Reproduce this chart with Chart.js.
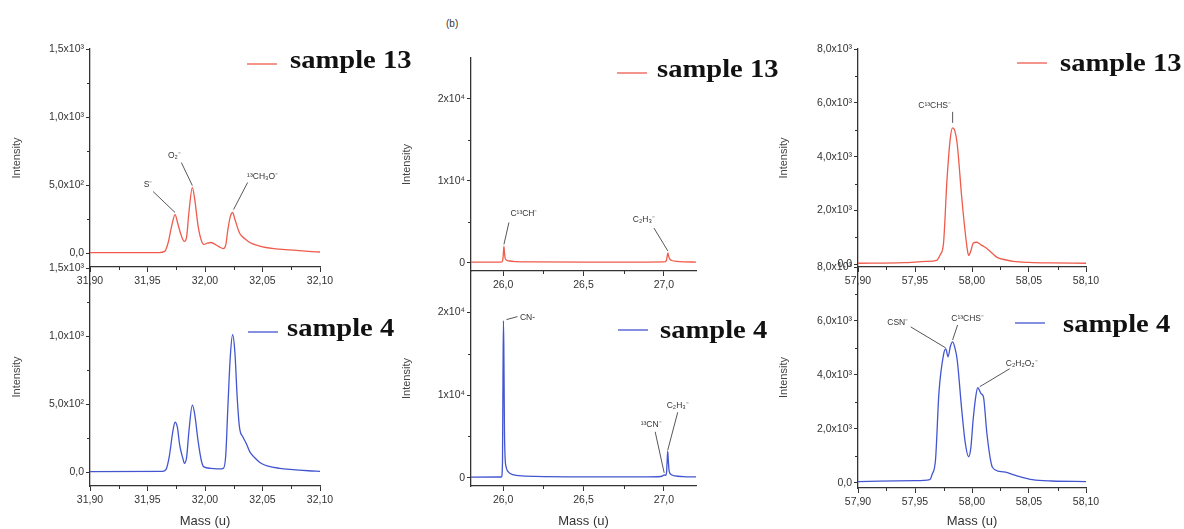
<!DOCTYPE html>
<html>
<head>
<meta charset="utf-8">
<script src="https://cdn.jsdelivr.net/npm/chart.js@4.4.1/dist/chart.umd.min.js"></script>
<style>
  html, body { margin: 0; padding: 0; background: #fff; }
  #fig { position: relative; width: 1184px; height: 529px; overflow: hidden; background: #fff; }
  #fig canvas { position: absolute; left: 0; top: 0; }
  #panelTag { position: absolute; left: 446px; top: 18px; font: 10px "Liberation Sans", Arial, sans-serif; color: #333; }
</style>
</head>
<body>
<div id="fig">
  <div id="panelTag">(b)</div>
  <canvas id="c32s13" width="1184" height="529"></canvas>
  <canvas id="c32s4" width="1184" height="529"></canvas>
  <canvas id="c26s13" width="1184" height="529"></canvas>
  <canvas id="c26s4" width="1184" height="529"></canvas>
  <canvas id="c58s13" width="1184" height="529"></canvas>
  <canvas id="c58s4" width="1184" height="529"></canvas>
</div>
<script>
// ---- Spectra around m/z 32 ----
const mass32_s13 = [31.900, 31.960, 31.965, 31.968, 31.971, 31.974, 31.976, 31.979, 31.982, 31.984,
  31.986, 31.989, 31.991, 31.994, 31.997, 31.999, 32.002, 32.005, 32.008, 32.012,
  32.016, 32.018, 32.020, 32.022, 32.024, 32.026, 32.030, 32.035, 32.039, 32.045,
  32.050, 32.060, 32.074, 32.090, 32.100];
const int32_s13 = [5, 6, 15, 80, 200, 285, 230, 140, 88, 120,
  300, 483, 400, 200, 90, 66, 75, 80, 70, 50,
  35, 60, 180, 270, 300, 250, 150, 105, 80, 60,
  48, 35, 25, 15, 10];

const mass32_s4 = [31.900, 31.963, 31.966, 31.969, 31.972, 31.974, 31.976, 31.978, 31.981, 31.982,
  31.984, 31.986, 31.989, 31.991, 31.994, 31.997, 31.999, 32.005, 32.012, 32.016,
  32.018, 32.020, 32.022, 32.024, 32.026, 32.028, 32.030, 32.033, 32.036, 32.039,
  32.043, 32.048, 32.055, 32.065, 32.074, 32.090, 32.100];
const int32_s4 = [5, 8, 20, 120, 300, 368, 330, 200, 95, 66,
  110, 300, 493, 430, 230, 80, 40, 30, 25, 30,
  120, 500, 850, 1010, 880, 550, 330, 260, 210, 150,
  110, 70, 45, 30, 22, 12, 8];

// ---- Spectra around m/z 26-27 ----
const mass26_s13 = [25.80, 25.99, 25.998, 26.002, 26.005, 26.008, 26.012, 26.02, 26.04, 26.08,
  26.2, 26.5, 26.9, 27.00, 27.015, 27.020, 27.025, 27.030, 27.037, 27.05,
  27.08, 27.13, 27.20];
const int26_s13 = [80, 90, 400, 1300, 2000, 1300, 600, 350, 220, 150,
  110, 90, 90, 110, 250, 700, 1200, 800, 450, 280,
  180, 120, 90];

const mass26_s4 = [25.80, 25.99, 25.996, 25.999, 26.002, 26.005, 26.008, 26.012, 26.02, 26.035,
  26.06, 26.1, 26.2, 26.5, 26.9, 26.98, 26.995, 27.002, 27.010, 27.016,
  27.020, 27.024, 27.028, 27.033, 27.045, 27.07, 27.12, 27.20];
const int26_s4 = [80, 90, 2000, 12000, 19000, 14000, 6000, 2500, 1200, 650,
  380, 250, 160, 110, 110, 150, 250, 350, 300, 500,
  1800, 3200, 2000, 800, 400, 220, 140, 100];

// ---- Spectra around m/z 58 ----
const mass58_s13 = [57.900, 57.940, 57.960, 57.969, 57.972, 57.975, 57.978, 57.981, 57.983, 57.985,
  57.987, 57.991, 57.994, 57.996, 57.997, 57.999, 58.001, 58.004, 58.008, 58.013,
  58.018, 58.022, 58.030, 58.036, 58.050, 58.070, 58.100];
const int58_s13 = [40, 60, 110, 150, 350, 780, 3100, 4700, 5070, 4950,
  4480, 2480, 1200, 520, 330, 500, 780, 820, 720, 590,
  400, 260, 160, 110, 70, 50, 40];

const mass58_s4 = [57.900, 57.950, 57.963, 57.965, 57.968, 57.971, 57.975, 57.977, 57.979, 57.981,
  57.983, 57.985, 57.987, 57.991, 57.994, 57.997, 57.999, 58.001, 58.003, 58.005,
  58.008, 58.010, 58.013, 58.016, 58.018, 58.024, 58.031, 58.036, 58.042, 58.053,
  58.070, 58.100];
const int58_s4 = [40, 70, 110, 300, 850, 3330, 4740, 4960, 4670, 5050,
  5220, 5000, 4560, 2700, 1500, 960, 1300, 2330, 3100, 3520,
  3300, 3190, 1850, 900, 560, 420, 370, 300, 220, 110,
  60, 40];

// ---- Axis ticks and their labels ----
const massTicks32 = [31.90, 31.95, 32.00, 32.05, 32.10];
const massLabels32 = ['31,90', '31,95', '32,00', '32,05', '32,10'];
const massTicks26 = [26.0, 26.5, 27.0];
const massLabels26 = ['26,0', '26,5', '27,0'];
const massTicks58 = [57.90, 57.95, 58.00, 58.05, 58.10];
const massLabels58 = ['57,90', '57,95', '58,00', '58,05', '58,10'];
const intTicks32 = [0, 500, 1000, 1500];
const intLabels32 = ['0,0', '5,0x10²', '1,0x10³', '1,5x10³'];
const intTicks26 = [0, 10000, 20000];
const intLabels26 = ['0', '1x10⁴', '2x10⁴'];
const intTicks58 = [0, 2000, 4000, 6000, 8000];
const intLabels58 = ['0,0', '2,0x10³', '4,0x10³', '6,0x10³', '8,0x10³'];

// ---- Peak assignments: peak position (mass, intensity) plus label/leader offsets in px ----
const notes32_s13 = [
  { text: 'S⁻', m: 31.974, v: 285, dx: -27, dy: -30, sx: -22, sy: -23, ex: 0, ey: -2 },
  { text: 'O₂⁻', m: 31.989, v: 483, dx: -18, dy: -32, sx: -11, sy: -25, ex: 0, ey: -2 },
  { text: '¹³CH₃O⁻', m: 32.024, v: 300, dx: 30, dy: -36, sx: 15, sy: -30, ex: 1, ey: -3 }
];
const notes26_s13 = [
  { text: 'C¹³CH⁻', m: 26.005, v: 2000, dx: 20, dy: -33, sx: 5, sy: -24, ex: 0, ey: -2 },
  { text: 'C₂H₃⁻', m: 27.025, v: 1200, dx: -24, dy: -33, sx: -14, sy: -25, ex: 0, ey: -2 }
];
const notes26_s4 = [
  { text: 'CN-', m: 26.002, v: 19000, dx: 24, dy: -3, sx: 14, sy: -4, ex: 3, ey: -1 },
  { text: '¹³CN⁻', m: 27.002, v: 350, dx: -13, dy: -50, sx: -9, sy: -43, ex: 0, ey: -2 },
  { text: 'C₂H₃⁻', m: 27.024, v: 3200, dx: 10, dy: -46, sx: 10, sy: -39, ex: 0, ey: -1 }
];
const notes58_s13 = [
  { text: 'C¹³CHS⁻', m: 57.983, v: 5070, dx: -18, dy: -22, sx: 0, sy: -16, ex: 0, ey: -5 }
];
const notes58_s4 = [
  { text: 'CSN⁻', m: 57.977, v: 4960, dx: -48, dy: -26, sx: -35, sy: -22, ex: 0, ey: -1 },
  { text: 'C¹³CHS⁻', m: 57.983, v: 5220, dx: 15, dy: -23, sx: 5, sy: -17, ex: 0, ey: -2 },
  { text: 'C₂H₂O₂⁻', m: 58.005, v: 3520, dx: 44, dy: -24, sx: 32, sy: -19, ex: 2, ey: -1 }
];

const RED = '#ef5b4c';
const BLUE = '#4356d0';
const AXIS = '#333';
const SANS = '"Liberation Sans", Arial, Helvetica, sans-serif';
const SERIF = '"Liberation Serif", "Times New Roman", serif';
const W = 1184, H = 529;

// Midpoints between major ticks, used for the short minor tick marks.
function midpoints(arr) {
  const out = [];
  for (let i = 1; i < arr.length; i++) out.push((arr[i - 1] + arr[i]) / 2);
  return out;
}

// Minor ticks, inline legend and peak labels drawn on top of each panel.
const decor = {
  id: 'decor',
  afterDraw(chart, args, opts) {
    const ctx = chart.ctx;
    const xs = chart.scales.x, ys = chart.scales.y;
    const a = chart.chartArea;
    ctx.save();
    ctx.strokeStyle = AXIS;
    ctx.lineWidth = 1;
    ctx.beginPath();
    opts.xMinor.forEach(v => {
      const px = Math.round(xs.getPixelForValue(v)) + 0.5;
      ctx.moveTo(px, a.bottom); ctx.lineTo(px, a.bottom + 3);
    });
    opts.yMinor.forEach(v => {
      const py = Math.round(ys.getPixelForValue(v)) + 0.5;
      ctx.moveTo(a.left - 3, py); ctx.lineTo(a.left, py);
    });
    ctx.stroke();

    // leader lines and peak labels
    ctx.strokeStyle = '#444';
    ctx.fillStyle = '#333';
    ctx.lineWidth = 0.9;
    ctx.font = '8.5px ' + SANS;
    ctx.textAlign = 'center';
    ctx.textBaseline = 'middle';
    opts.notes.forEach(n => {
      const tx = xs.getPixelForValue(n.m), ty = ys.getPixelForValue(n.v);
      ctx.beginPath();
      ctx.moveTo(tx + n.sx, ty + n.sy);
      ctx.lineTo(tx + n.ex, ty + n.ey);
      ctx.stroke();
      ctx.fillText(n.text, tx + n.dx, ty + n.dy);
    });

    // inline legend
    const lg = opts.legend;
    const ds = chart.data.datasets[0];
    ctx.strokeStyle = ds.borderColor;
    ctx.lineWidth = 1.3;
    ctx.beginPath();
    ctx.moveTo(lg.x0, lg.ly); ctx.lineTo(lg.x1, lg.ly);
    ctx.stroke();
    ctx.translate(lg.tx, lg.ty);
    ctx.scale(1.1, 1);
    ctx.fillStyle = '#111';
    ctx.font = 'bold 26px ' + SERIF;
    ctx.textAlign = 'left';
    ctx.textBaseline = 'alphabetic';
    ctx.fillText(ds.label, 0, 0);
    ctx.restore();
  }
};

function buildPanel(p) {
  const yBoxLeft = p.titleX - 7.2;
  const yW = p.area.left - yBoxLeft;
  const xH = p.xTitle ? (H - p.area.bottom) : 34;
  const padBottom = H - p.area.bottom - xH;
  const points = p.mass.map((m, i) => ({ x: m, y: p.intensity[i] }));
  return new Chart(document.getElementById(p.id), {
    type: 'scatter',
    data: {
      datasets: [{
        label: p.label,
        data: points,
        showLine: true,
        borderColor: p.color,
        borderWidth: 1.3,
        pointRadius: 0,
        cubicInterpolationMode: 'monotone',
        fill: false
      }]
    },
    options: {
      responsive: false,
      animation: false,
      events: [],
      layout: { padding: { left: yBoxLeft, right: W - p.area.right, top: p.area.top, bottom: padBottom } },
      plugins: {
        legend: { display: false },
        tooltip: { enabled: false },
        decor: {
          xMinor: midpoints(p.xTicks),
          yMinor: midpoints(p.yTicks),
          notes: p.notes,
          legend: p.legend
        }
      },
      scales: {
        x: {
          type: 'linear',
          min: p.xMin, max: p.xMax,
          afterFit(s) { s.height = xH; },
          afterBuildTicks(s) { s.ticks = p.xTicks.map(v => ({ value: v })); },
          ticks: {
            autoSkip: false, maxRotation: 0, padding: 3, color: AXIS,
            font: { family: SANS, size: 10.5 },
            callback: (v, i) => p.xLabels[i]
          },
          grid: { drawOnChartArea: false, drawTicks: true, tickLength: 5, color: AXIS, lineWidth: 1 },
          border: { display: true, color: AXIS, width: 1.3 },
          title: {
            display: p.xTitle, text: 'Mass (u)', color: AXIS,
            font: { family: SANS, size: 13 }, padding: { top: 0, bottom: 0 }
          }
        },
        y: {
          type: 'linear',
          min: p.yMin, max: p.yMax,
          afterFit(s) { s.width = yW; },
          afterBuildTicks(s) { s.ticks = p.yTicks.map(v => ({ value: v })); },
          ticks: {
            autoSkip: false, padding: 2, color: AXIS,
            font: { family: SANS, size: 10.5 },
            callback: (v, i) => p.yLabels[i]
          },
          grid: { drawOnChartArea: false, drawTicks: true, tickLength: 4, color: AXIS, lineWidth: 1 },
          border: { display: true, color: AXIS, width: 1.3 },
          title: {
            display: true, text: 'Intensity', color: '#444',
            font: { family: SANS, size: 11 }, padding: { top: 0, bottom: 0 }
          }
        }
      }
    },
    plugins: [decor]
  });
}

const panels = [
  { id: 'c32s13', label: 'sample 13', color: RED, mass: mass32_s13, intensity: int32_s13,
    area: { left: 90, right: 320, top: 49, bottom: 267 }, titleX: 18, xTitle: false,
    xMin: 31.90, xMax: 32.10, yMin: -100, yMax: 1500,
    xTicks: massTicks32, xLabels: massLabels32, yTicks: intTicks32, yLabels: intLabels32,
    notes: notes32_s13, legend: { x0: 247, x1: 277, ly: 64, tx: 290, ty: 68 } },
  { id: 'c32s4', label: 'sample 4', color: BLUE, mass: mass32_s4, intensity: int32_s4,
    area: { left: 90, right: 320, top: 268, bottom: 486 }, titleX: 18, xTitle: true,
    xMin: 31.90, xMax: 32.10, yMin: -100, yMax: 1500,
    xTicks: massTicks32, xLabels: massLabels32, yTicks: intTicks32, yLabels: intLabels32,
    notes: [], legend: { x0: 248, x1: 278, ly: 332, tx: 287, ty: 336 } },
  { id: 'c26s13', label: 'sample 13', color: RED, mass: mass26_s13, intensity: int26_s13,
    area: { left: 471, right: 696, top: 58, bottom: 271 }, titleX: 408, xTitle: false,
    xMin: 25.8, xMax: 27.2, yMin: -1000, yMax: 25000,
    xTicks: massTicks26, xLabels: massLabels26, yTicks: intTicks26, yLabels: intLabels26,
    notes: notes26_s13, legend: { x0: 617, x1: 647, ly: 73, tx: 657, ty: 77 } },
  { id: 'c26s4', label: 'sample 4', color: BLUE, mass: mass26_s4, intensity: int26_s4,
    area: { left: 471, right: 696, top: 271, bottom: 486 }, titleX: 408, xTitle: true,
    xMin: 25.8, xMax: 27.2, yMin: -1000, yMax: 25000,
    xTicks: massTicks26, xLabels: massLabels26, yTicks: intTicks26, yLabels: intLabels26,
    notes: notes26_s4, legend: { x0: 618, x1: 648, ly: 330, tx: 660, ty: 338 } },
  { id: 'c58s13', label: 'sample 13', color: RED, mass: mass58_s13, intensity: int58_s13,
    area: { left: 858, right: 1086, top: 49, bottom: 267 }, titleX: 785, xTitle: false,
    xMin: 57.90, xMax: 58.10, yMin: -100, yMax: 8000,
    xTicks: massTicks58, xLabels: massLabels58, yTicks: intTicks58, yLabels: intLabels58,
    notes: notes58_s13, legend: { x0: 1017, x1: 1047, ly: 63, tx: 1060, ty: 71 } },
  { id: 'c58s4', label: 'sample 4', color: BLUE, mass: mass58_s4, intensity: int58_s4,
    area: { left: 858, right: 1086, top: 267, bottom: 488 }, titleX: 785, xTitle: true,
    xMin: 57.90, xMax: 58.10, yMin: -200, yMax: 8000,
    xTicks: massTicks58, xLabels: massLabels58, yTicks: intTicks58, yLabels: intLabels58,
    notes: notes58_s4, legend: { x0: 1015, x1: 1045, ly: 323, tx: 1063, ty: 332 } }
];

panels.forEach(buildPanel);
</script>
</body>
</html>
